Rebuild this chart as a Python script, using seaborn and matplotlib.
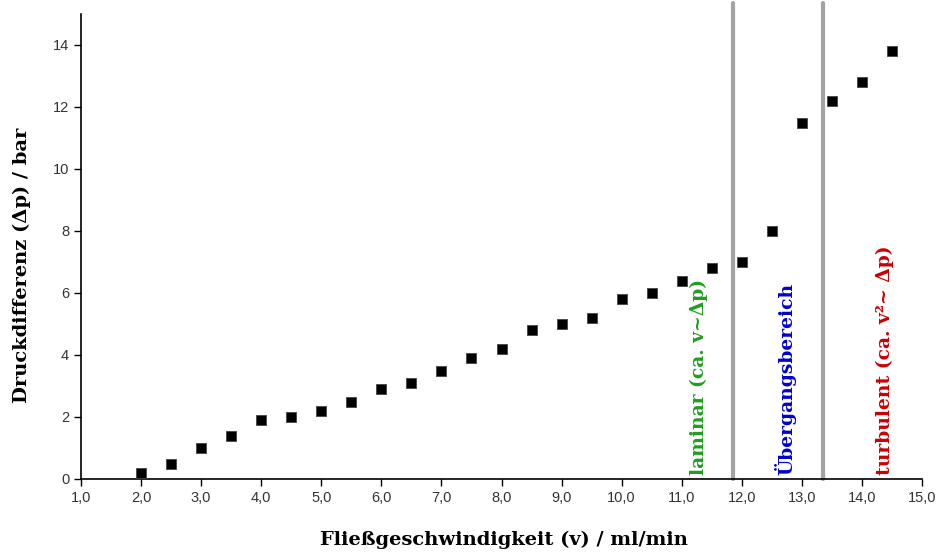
import numpy as np
import pandas as pd
import matplotlib
matplotlib.use('Agg')
import matplotlib.pyplot as plt
from matplotlib.ticker import FuncFormatter
import seaborn as sns

# flow rate (ml/min) and pressure difference (bar)
flow = [2.0, 2.5, 3.0, 3.5, 4.0, 4.5, 5.0, 5.5, 6.0, 6.5, 7.0, 7.5, 8.0,
        8.5, 9.0, 9.5, 10.0, 10.5, 11.0, 11.5, 12.0, 12.5, 13.0, 13.5,
        14.0, 14.5]
dp = [0.2, 0.5, 1.0, 1.4, 1.9, 2.0, 2.2, 2.5, 2.9, 3.1, 3.5, 3.9, 4.2,
      4.8, 5.0, 5.2, 5.8, 6.0, 6.4, 6.8, 7.0, 8.0, 11.5, 12.2, 12.8, 13.8]

boundaries = [11.85, 13.35]
region_labels = ['laminar (ca. v~Δp)', 'Übergangsbereich', 'turbulent (ca. v²~ Δp)']
region_x = [11.28, 12.72, 14.38]
region_colors = ['#1f9e1f', '#0000cc', '#cc0000']

x_ticks = np.arange(1, 16, 1)
y_ticks = [0, 2, 4, 6, 8, 10, 12, 14]

df = pd.DataFrame({'flow': flow, 'dp': dp})

sns.set_style('ticks')
plt.rcParams['font.family'] = ['Liberation Sans', 'DejaVu Sans']

fig = plt.figure(figsize=(9.39, 5.53), dpi=100)
ax = fig.add_axes([81 / 939, (553 - 479) / 553, (922 - 81) / 939, (479 - 14) / 553])

for b in boundaries:
    ax.axvline(b, ymin=0, ymax=1.024, color='#a3a3a3', lw=3, clip_on=False, zorder=1)

sns.scatterplot(data=df, x='flow', y='dp', marker='s', s=62, color='black',
                edgecolor='#444444', linewidth=0.6, ax=ax, zorder=3)

serif = ['DejaVu Serif']
for lab, xv, col in zip(region_labels, region_x, region_colors):
    ax.text(xv, 0.12, lab, rotation=90, ha='center', va='bottom', color=col,
            fontsize=13.5, fontweight='bold', family=serif)

ax.set_xlim(1, 15)
ax.set_ylim(0, 15)
ax.set_xticks(x_ticks)
ax.set_yticks(y_ticks)
ax.xaxis.set_major_formatter(FuncFormatter(lambda v, p: f'{v:.1f}'.replace('.', ',')))
ax.tick_params(axis='both', length=5, width=1, labelsize=10.5, labelcolor='#333333',
               color='black')
for s in ['left', 'bottom']:
    ax.spines[s].set_linewidth(1.2)
    ax.spines[s].set_color('black')
sns.despine(ax=ax)

ax.set_xlabel('Fließgeschwindigkeit (v) / ml/min', fontsize=14, fontweight='bold',
              family=serif, va='center', color='black')
ax.set_ylabel('Druckdifferenz (Δp) / bar', fontsize=14, fontweight='bold',
              family=serif, va='center', color='black')
ax.xaxis.set_label_coords(0.503, -0.131)
ax.yaxis.set_label_coords(-0.070, 0.46)

fig.savefig('out.png', dpi=100)
plt.close(fig)
